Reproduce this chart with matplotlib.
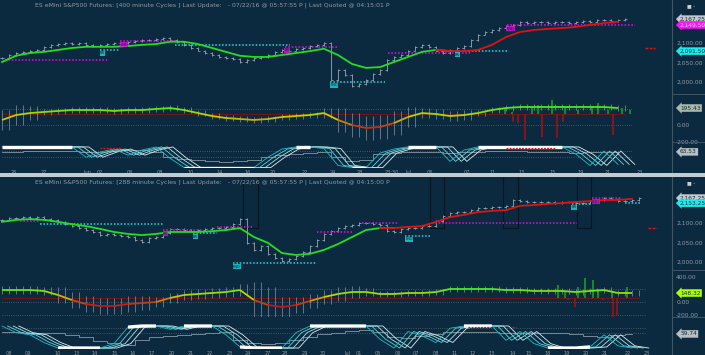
import numpy as np
import matplotlib.pyplot as plt
from matplotlib.collections import LineCollection
from matplotlib.colors import LinearSegmentedColormap, Normalize
from matplotlib.lines import Line2D
from matplotlib.patches import Rectangle
from matplotlib.transforms import blended_transform_factory

W, H = 705, 355
BG = '#0c2a3f'
GRAY = '#8e9ba5'

# ---------------- top chart: 400 minute cycles ----------------
top_title = ("ES eMini S&P500 Futures: [400 minute Cycles ] Last Update:   - "
             "07/22/16 @ 05:57:55 P | Last Quoted @ 04:15:01 P")
top_close = [2061, 2069, 2074, 2077, 2080, 2082, 2090, 2095, 2097, 2100,
             2097, 2100, 2095, 2092, 2095, 2097, 2100, 2100, 2103, 2105,
             2108, 2108, 2110, 2113, 2108, 2103, 2095, 2087, 2080, 2074,
             2069, 2064, 2061, 2059, 2051, 2056, 2061, 2064, 2069, 2077,
             2082, 2080, 2085, 2087, 2092, 2095, 2100, 2005, 2031, 2018,
             1990, 1995, 2005, 2020, 2031, 2056, 2064, 2069, 2080, 2090,
             2095, 2090, 2080, 2074, 2082, 2087, 2092, 2108, 2121, 2128,
             2133, 2138, 2144, 2146, 2154, 2151, 2154, 2154, 2151, 2154,
             2154, 2151, 2154, 2156, 2154, 2159, 2159, 2156, 2159, 2161]
# averages / oscillators sampled every second bar
top_ma = [2051, 2067, 2074, 2077, 2082, 2087, 2090, 2090, 2090, 2092,
          2095, 2097, 2103, 2103, 2097, 2087, 2077, 2067, 2064, 2064,
          2069, 2074, 2079, 2085, 2069, 2046, 2036, 2038, 2051, 2064,
          2077, 2082, 2079, 2079, 2082, 2095, 2115, 2128, 2133, 2136,
          2138, 2141, 2146, 2151, 2154]
top_turn = 64
top_osc = [61, 121, 145, 158, 170, 182, 182, 182, 170, 182,
           182, 194, 206, 182, 145, 109, 85, 73, 61, 73,
           97, 109, 121, 145, 61, 0, -36, -24, 24, 97,
           145, 133, 109, 121, 145, 182, 206, 218, 218, 218,
           218, 218, 218, 218, 206]
top_spread = [120, 120, 90, 40, 35, 35, 35, 35, 35, 35,
              35, 35, 35, 35, 35, 35, 35, 35, 35, 35,
              35, 35, 35, 60, 150, 150, 150, 150, 150, 120,
              60, 60, 60, 60, 40, 40, 35, 35, 35, 35,
              35, 35, 35, 35, 35]
top_osc_base = 133
top_hist_x = [71.9, 72.9, 73.0, 73.7, 74.7, 75.7, 76.6, 77.1, 78.6, 79.3,
              80.1, 80.4, 82.3, 84.3, 85.1, 86.6, 87.3, 88.6, 89.7]
top_hist_v = [206, 158, 36, 24, -182, 218, 242, -145, 303, -158,
              36, 206, 182, 218, 267, 182, -121, 206, 182]
top_cycle = [100, 100, 100, 100, 100, 100, 50, 75, 90, 60,
             85, 100, 45, 0, 0, 0, 0, 0, 0, 50,
             90, 100, 100, 92, 10, 0, 0, 70, 90, 100,
             100, 100, 30, 85, 100, 100, 100, 100, 100, 100,
             100, 65, 10, 80, 15]
top_cycle_gray = [76, 76, 80, 80, 80, 80, 76, 76, 80, 85,
                  85, 76, 51, 41, 37, 32, 27, 32, 37, 51,
                  61, 66, 71, 76, 51, 32, 37, 66, 71, 76,
                  76, 76, 71, 76, 76, 80, 80, 80, 76, 76,
                  76, 71, 76, 76, 76]
top_cycle_red = [(14.0, 17.0), (72.0, 79.0)]
top_levels = [(2056, 0.4, 15.0, 'm', ''), (2082, 14.0, 16.9, 'c', 'BR'),
              (2105, 16.9, 24.7, 'm', 'END'), (2095, 24.7, 41.1, 'c', ''),
              (2090, 40.4, 47.9, 'm', 'BR'), (2000, 46.9, 54.7, 'c', 'END'),
              (2074, 55.1, 66.9, 'm', ''), (2079, 64.7, 72.3, 'c', 'BR'),
              (2146, 72.1, 90.4, 'm', 'END')]
top_target = (2087, 91.9, 93.3)
top_price_ticks = [2100, 2050, 2000]
top_osc_ticks = [0, -200]
top_tags = {'close': '2,167.25', 'm': '2,149.50', 'c': '2,091.50',
            'osc': '195.43', 'cyc': '63.53'}
top_dates = ['26', '27', 'Jun', '02', '06', '08', '10', '14', '16', '20', '22',
             '24', '28', '23:30', 'Jul', '06', '07', '11', '13', '15', '19',
             '21', '23']
top_date_pos = [1.7, 5.9, 12.1, 14.0, 18.3, 22.6, 26.9, 31.1, 35.1, 38.7, 43.3,
                47.3, 51.1, 55.7, 58.0, 61.1, 66.4, 70.1, 74.3, 78.7, 82.6,
                86.6, 91.1]

# ---------------- bottom chart: 288 minute cycles ----------------
bot_title = ("ES eMini S&P500 Futures: [288 minute Cycles ] Last Update:   - "
             "07/22/16 @ 05:57:55 P | Last Quoted @ 04:15:00 P")
bot_close = [2108, 2113, 2113, 2115, 2113, 2115, 2110, 2108, 2103, 2097,
             2092, 2087, 2082, 2077, 2069, 2072, 2069, 2067, 2064, 2056,
             2051, 2062, 2064, 2074, 2085, 2085, 2082, 2079, 2082, 2085,
             2087, 2087, 2090, 2097, 2110, 2049, 2031, 2041, 2021, 2010,
             2003, 2008, 2015, 2026, 2041, 2056, 2072, 2079, 2087, 2092,
             2095, 2100, 2100, 2097, 2095, 2079, 2077, 2085, 2087, 2087,
             2092, 2092, 2105, 2118, 2126, 2128, 2128, 2133, 2138, 2138,
             2141, 2141, 2144, 2159, 2156, 2154, 2154, 2154, 2154, 2151,
             2154, 2154, 2151, 2151, 2156, 2159, 2164, 2162, 2156, 2156,
             2159, 2164]
bot_ma = [2103, 2108, 2110, 2108, 2103, 2097, 2092, 2085, 2077, 2072,
          2069, 2072, 2077, 2077, 2077, 2079, 2082, 2087, 2064, 2049,
          2023, 2018, 2021, 2031, 2046, 2064, 2082, 2087, 2087, 2090,
          2092, 2103, 2115, 2121, 2128, 2131, 2133, 2144, 2146, 2149,
          2151, 2154, 2156, 2159, 2159, 2162]
bot_turn = 56
bot_osc = [188, 188, 188, 173, 110, 31, -31, -63, -63, -31,
           -16, 0, 63, 110, 126, 141, 157, 188, 31, -47,
           -78, -47, 16, 78, 126, 157, 157, 126, 126, 141,
           141, 157, 204, 204, 204, 204, 188, 188, 173, 173,
           173, 157, 173, 188, 141, 141]
bot_spread = [60, 60, 60, 60, 125, 125, 125, 125, 125, 125,
              110, 80, 80, 80, 80, 80, 80, 100, 280, 280,
              150, 120, 110, 110, 110, 90, 60, 45, 45, 45,
              45, 45, 45, 45, 45, 45, 45, 45, 45, 45,
              45, 45, 45, 45, 45, 45]
bot_osc_base = 60
bot_hist_x = [79.4, 80.4, 80.9, 81.9, 82.3, 83.3, 84.3, 84.4, 85.1, 85.9,
              87.1, 87.3, 87.9, 89.3]
bot_hist_v = [267, 157, 31, -78, 235, 377, 40, 345, 188, 31,
              157, -282, -204, 235]
bot_cycle = [100, 70, 60, 25, 0, 0, 0, 0, 20, 95,
             100, 100, 85, 100, 100, 100, 60, 5, 0, 0,
             0, 70, 100, 100, 100, 100, 100, 40, 0, 75,
             55, 25, 90, 100, 100, 100, 35, 75, 20, 0,
             0, 0, 5, 60, 10, 0]
bot_cycle_gray = [73, 73, 68, 68, 68, 59, 50, 32, 23, 14,
                  36, 50, 55, 59, 64, 68, 73, 36, 23, 18,
                  23, 36, 50, 64, 68, 77, 82, 73, 50, 45,
                  55, 64, 73, 73, 73, 73, 68, 68, 68, 68,
                  68, 64, 55, 50, 59, 64]
bot_cycle_red = [(66.6, 70.4), (72.9, 73.4)]
bot_levels = [(2105, 2.6, 5.4, 'm', ''), (2097, 5.4, 23.0, 'c', ''),
              (2082, 23.0, 28.7, 'm', 'BR'), (2074, 27.3, 30.7, 'c', 'BR'),
              (2090, 30.7, 35.7, 'm', ''), (1997, 33.0, 45.0, 'c', 'END'),
              (2077, 45.0, 50.0, 'm', ''), (2100, 51.4, 56.6, 'm', ''),
              (2067, 57.6, 61.1, 'c', 'END'), (2100, 61.4, 82.1, 'm', ''),
              (2149, 81.4, 84.3, 'c', 'BR'), (2164, 84.3, 88.6, 'm', 'END'),
              (2151, 89.0, 91.1, 'c', '')]
bot_target = (2087, 92.3, 93.6)
bot_boxes = [34.4, 61.1, 71.6, 82.1]
bot_price_ticks = [2100, 2050, 2000]
bot_osc_ticks = [400, 0, -200]
bot_tags = {'close': '2,167.25', 'c': '2,153.25',
            'osc': '148.32', 'cyc': '59.74'}
bot_dates = ['08', '09', '10', '13', '14', '15', '16', '17', '20', '21', '22',
             '23', '24', '27', '28', '29', '30', 'Jul', '01', '05', '06', '07',
             '08', '11', '12', '13', '14', '15', '18', '19', '20', '21', '22',
             '23']
bot_date_pos = [1.0, 3.7, 7.9, 10.7, 13.3, 16.1, 18.7, 21.4, 24.3, 26.9, 29.7,
                32.6, 35.1, 37.9, 40.4, 43.3, 45.9, 49.3, 51.0, 53.7, 56.6,
                59.1, 62.0, 64.6, 67.3, 70.0, 72.9, 75.3, 78.0, 80.7, 83.4,
                86.1, 89.4, 92.1]

LEVEL_COL = {'m': '#e010e0', 'c': '#20d8e0'}
osc_cmap = LinearSegmentedColormap.from_list(
    'osc', [(0.0, '#c01818'), (0.22, '#d04010'), (0.41, '#d0a000'),
            (0.59, '#c8d000'), (0.81, '#90e000'), (1.0, '#40f010')])
osc_norm = Normalize(-60, 210)

fig = plt.figure(figsize=(W / 100, H / 100), dpi=100, facecolor=BG)


def px_axes(y0, y1, ylim):
    ax = fig.add_axes([0, 1 - y1 / H, 672 / W, (y1 - y0) / H])
    ax.set_facecolor('none')
    for s in ax.spines.values():
        s.set_visible(False)
    ax.set_xlim(-2 / 7, 670 / 7)
    ax.set_ylim(*ylim)
    ax.tick_params(length=0, labelsize=4.3, colors=GRAY, pad=3)
    ax.yaxis.tick_right()
    ax.set_xticks([])
    ax.set_yticks([])
    return ax


def tag(ax, y, text, fc, tc='#1a2a35'):
    tr = blended_transform_factory(ax.transAxes, ax.transData)
    ax.text(1.012, y, text, transform=tr, ha='left', va='center', fontsize=4.2,
            color=tc, clip_on=False, zorder=6,
            bbox=dict(boxstyle='larrow,pad=0.22', fc=fc, ec='none'))


def draw_chart(rows, d):
    (p0, p1, plim), (o0, o1, olim), (c0, c1, clim) = rows
    close = np.array(d['close'], float)
    n = len(close)
    xb = np.arange(n)
    xs = np.arange(0, n, 2)[:len(d['ma'])]

    # ---- price panel ----
    ax = px_axes(p0, p1, plim)
    for x0 in d.get('boxes', []):
        ax.plot([x0, x0, x0 + 2.1, x0 + 2.1], [plim[1], 2087, 2087, plim[1]],
                color='#071722', lw=0.9, zorder=1)
    opn = np.concatenate([[close[0]], close[:-1]])
    ax.vlines(xb, np.minimum(opn, close) - 2, np.maximum(opn, close) + 2,
              color='#9aa7b0', lw=0.6, zorder=2)
    ax.hlines(opn, xb - 0.35, xb, color='#9aa7b0', lw=0.6, zorder=2)
    ax.hlines(close, xb, xb + 0.35, color='#9aa7b0', lw=0.6, zorder=2)
    ma = np.array(d['ma'], float)
    g = xs <= d['turn']
    ax.plot(xs[g], ma[g], color='#22dd22', lw=1.3, zorder=4)
    r = xs >= d['turn'] - 2
    ax.plot(xs[r], ma[r], color='#e01212', lw=1.3, zorder=4)
    last = {}
    for lvl, a, b, k, lab in d['levels']:
        col = LEVEL_COL[k]
        ax.plot([a, b], [lvl, lvl], color=col, lw=1.1, ls=(0, (1, 1.2)), zorder=3)
        last[k] = lvl
        if lab:
            ax.text(a, lvl - 4, lab, fontsize=2.6, color='#10202a', ha='left',
                    va='top', zorder=5,
                    bbox=dict(boxstyle='square,pad=0.1', fc=col, ec='none', alpha=0.8))
    tl, ta, tb = d['target']
    ax.plot([ta, tb], [tl, tl], color='#e01212', lw=1.0, ls=(0, (2, 1)))
    ax.set_yticks(d['price_ticks'])
    ax.set_yticklabels([f'{v:,.2f}' for v in d['price_ticks']])
    tag(ax, close[-1], d['tags']['close'], '#c3c9cd')
    if 'm' in d['tags']:
        tag(ax, last['m'], d['tags']['m'], '#ff10ff', '#f4d8f4')
    tag(ax, last['c'], d['tags']['c'], '#10f0f0')
    fig.text(35 / W, 1 - (p0 + 5.5) / H, d['title'], fontsize=4.45, color=GRAY,
             ha='left', va='center')
    fig.text(687 / W, 1 - (p0 + 6) / H, '\u25a0 -', fontsize=3.6,
             color='#c8d0d4', ha='left', va='center')

    # ---- oscillator panel ----
    ax = px_axes(o0, o1, olim)
    osc = np.array(d['osc'], float)
    for lv in (200, 0, -200):
        ax.hlines(lv, 0, n, color='#70808c', lw=0.5, ls=(0, (1, 2.2)))
    ax.hlines(d['base'], 0, n - 1, color='#701414', lw=0.8)
    sp = np.array(d['spread'], float)
    for off in (0, 1):
        ax.vlines(xs + off, osc - sp, osc + sp, color='#a0aab2', lw=0.55,
                  alpha=0.75, zorder=2)
    hx = np.array(d['hist_x'])
    hv = np.array(d['hist_v'], float)
    up = hv >= d['base']
    ax.vlines(hx[up], d['base'], hv[up], color='#10a020', lw=1.2, zorder=3)
    ax.vlines(hx[~up], d['base'], hv[~up], color='#a01010', lw=1.2, zorder=3)
    pts = np.column_stack([xs, osc])
    segs = np.stack([pts[:-1], pts[1:]], axis=1)
    lc = LineCollection(segs, colors=osc_cmap(osc_norm((osc[:-1] + osc[1:]) / 2)),
                        lw=1.3, zorder=4)
    ax.add_collection(lc)
    ax.set_yticks(d['osc_ticks'])
    ax.set_yticklabels([f'{v:,.2f}' for v in d['osc_ticks']])
    okc = '#aaff00' if d['osc_tag_lime'] else '#a9b8aa'
    tag(ax, osc[-1], d['tags']['osc'], okc)

    # ---- cycle panel ----
    ax = px_axes(c0, c1, clim)
    cyc = np.array(d['cycle'], float)
    for lv in d['cyc_grid']:
        ax.hlines(lv, 0, n, color='#70808c', lw=0.5, ls=(0, (1, 2.2)))
    ax.step(xs, d['cycle_gray'], where='mid', color='#8a979f', lw=0.6, zorder=2)
    for dx, col in [(2.4, '#d8eef0'), (1.6, '#a8e4ea'), (0.8, '#60d4dc'),
                    (0.0, '#18c0cc')]:
        ax.plot(xs + dx, cyc, color=col, lw=0.6, zorder=3)
    ext = np.where((cyc >= 95) | (cyc <= 5), cyc, np.nan)
    ax.plot(xs, ext, color='white', lw=2.4, zorder=4, solid_capstyle='butt')
    for a, b in d['cycle_red']:
        ax.plot([a, b], [97, 97], color='#e01212', lw=0.9, ls=(0, (1.5, 1)), zorder=5)
    ax.set_xticks(d['date_pos'])
    ax.set_xticklabels(d['dates'])
    ax.tick_params(axis='x', labelsize=3.6, pad=1.2, colors=GRAY)
    tag(ax, d['cycle_gray'][-1], d['tags']['cyc'], '#b8bec2')


top = dict(title=top_title, close=top_close, ma=top_ma, turn=top_turn,
           levels=top_levels, target=top_target, price_ticks=top_price_ticks,
           tags=top_tags, osc=top_osc, spread=top_spread, base=top_osc_base,
           hist_x=top_hist_x, hist_v=top_hist_v, osc_ticks=top_osc_ticks,
           osc_tag_lime=False, cycle=top_cycle, cycle_gray=top_cycle_gray,
           cycle_red=top_cycle_red, cyc_grid=[80, 51], dates=top_dates,
           date_pos=top_date_pos)
bot = dict(title=bot_title, close=bot_close, ma=bot_ma, turn=bot_turn,
           levels=bot_levels, target=bot_target, price_ticks=bot_price_ticks,
           tags=bot_tags, osc=bot_osc, spread=bot_spread, base=bot_osc_base,
           hist_x=bot_hist_x, hist_v=bot_hist_v, osc_ticks=bot_osc_ticks,
           osc_tag_lime=True, cycle=bot_cycle, cycle_gray=bot_cycle_gray,
           cycle_red=bot_cycle_red, cyc_grid=[91, 68], dates=bot_dates,
           date_pos=bot_date_pos, boxes=bot_boxes)

draw_chart([(0, 94, (1969, 2210)), (94, 142, (-206, 376)), (142, 168, (-2.4, 124))], top)
draw_chart([(177, 270, (1979.5, 2218)), (270, 317, (-235, 502)), (317, 349, (-4.5, 141))], bot)

# frame lines of the right price scale
fig.add_artist(Line2D([672 / W, 672 / W], [0, 1], color='#3f5666', lw=0.8))
for yp in (94, 142, 270, 317):
    fig.add_artist(Line2D([672 / W, 1], [1 - yp / H] * 2, color='#3f5666', lw=0.7))
fig.add_artist(Rectangle((0, 1 - 177 / H), 1, 4 / H, transform=fig.transFigure,
                         fc='#c3ccd2', ec='none', zorder=10))

fig.savefig('out.png', dpi=100, facecolor=BG)
